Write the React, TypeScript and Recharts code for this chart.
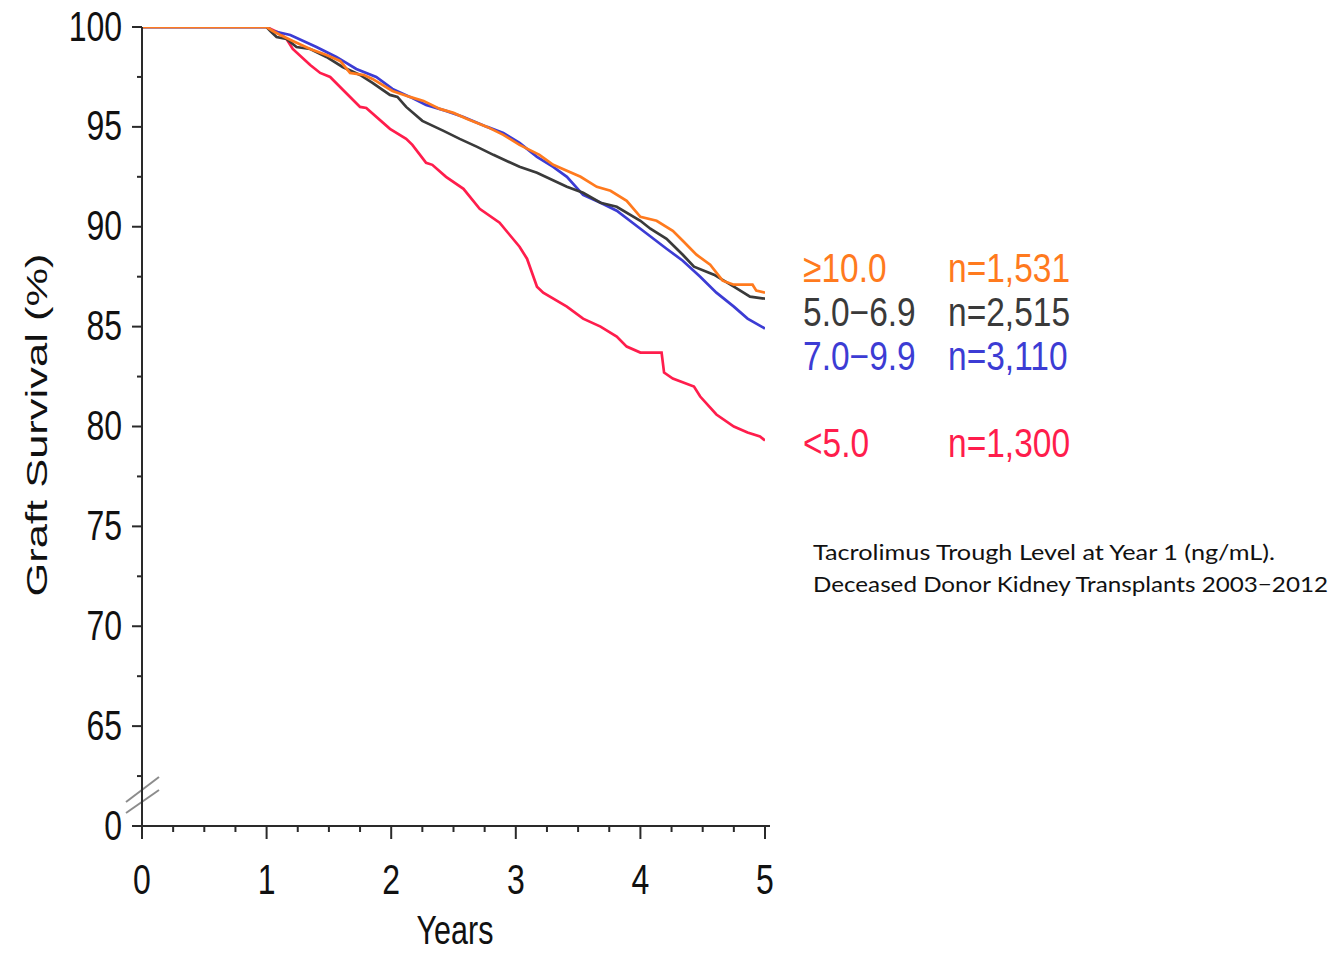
import { CartesianGrid, Customized, Line, LineChart, XAxis, YAxis } from "recharts";

// Kaplan-Meier style graft survival: [years, survival %]
const aboveTen: [number, number][] = [
    [0, 100], [1, 100], [1.05, 99.8], [1.11, 99.6], [1.21, 99.3], [1.35, 98.9], [1.48, 98.6],
    [1.59, 98.3], [1.67, 97.7], [1.78, 97.6], [1.85, 97.4], [2.01, 96.8], [2.15, 96.5],
    [2.26, 96.3], [2.39, 95.9], [2.5, 95.7], [2.61, 95.4], [2.77, 95.0], [2.9, 94.6],
    [3.03, 94.1], [3.19, 93.6], [3.3, 93.1], [3.52, 92.5], [3.65, 92.0], [3.76, 91.8],
    [3.89, 91.3], [4.0, 90.5], [4.13, 90.3], [4.26, 89.8], [4.34, 89.3], [4.45, 88.6],
    [4.56, 88.1], [4.66, 87.3], [4.75, 87.1], [4.9, 87.1], [4.93, 86.8], [5, 86.7],
];

const fiveToSeven: [number, number][] = [
    [0, 100], [1, 100], [1.03, 99.8], [1.08, 99.5], [1.16, 99.4], [1.24, 99.0], [1.35, 98.9],
    [1.48, 98.5], [1.61, 98.0], [1.75, 97.6], [1.85, 97.2], [1.99, 96.6], [2.05, 96.5],
    [2.12, 96.0], [2.25, 95.3], [2.42, 94.8], [2.55, 94.4], [2.69, 94.0], [2.82, 93.6],
    [3.03, 93.0], [3.17, 92.7], [3.41, 92.0], [3.54, 91.7], [3.68, 91.2], [3.81, 91.0],
    [4.0, 90.3], [4.08, 89.9], [4.21, 89.4], [4.34, 88.6], [4.43, 88.0], [4.59, 87.6],
    [4.75, 87.0], [4.88, 86.5], [5, 86.4],
];

const sevenToTen: [number, number][] = [
    [0, 100], [1, 100], [1.05, 99.8], [1.19, 99.6], [1.4, 99.0], [1.56, 98.5], [1.72, 97.9],
    [1.88, 97.5], [2.01, 96.9], [2.15, 96.5], [2.28, 96.1], [2.44, 95.8], [2.58, 95.5],
    [2.77, 95.0], [2.9, 94.7], [3.03, 94.2], [3.17, 93.5], [3.3, 93.0], [3.41, 92.5],
    [3.54, 91.6], [3.68, 91.2], [3.81, 90.8], [4.0, 89.9], [4.21, 88.9], [4.34, 88.3],
    [4.48, 87.5], [4.61, 86.7], [4.75, 86.0], [4.86, 85.4], [5, 84.9],
];

const belowFive: [number, number][] = [
    [0, 100], [1, 100], [1.1, 99.7], [1.16, 99.4], [1.21, 98.9], [1.35, 98.1], [1.43, 97.7],
    [1.51, 97.5], [1.59, 97.0], [1.75, 96.0], [1.8, 95.95], [1.99, 94.9], [2.12, 94.4],
    [2.17, 94.1], [2.28, 93.2], [2.33, 93.1], [2.44, 92.5], [2.58, 91.9], [2.71, 90.9],
    [2.87, 90.2], [2.95, 89.6], [3.03, 89.0], [3.09, 88.4], [3.17, 87.0], [3.22, 86.7],
    [3.41, 86.0], [3.54, 85.4], [3.68, 85.0], [3.81, 84.5], [3.89, 84.0], [4.0, 83.7],
    [4.17, 83.7], [4.19, 82.7], [4.26, 82.4], [4.43, 82.0], [4.48, 81.5], [4.61, 80.6],
    [4.75, 80.0], [4.86, 79.7], [4.96, 79.5], [5, 79.3],
];

const groupLabels = ["≥10.0", "5.0−6.9", "7.0−9.9", "<5.0"];
const groupCounts = ["n=1,531", "n=2,515", "n=3,110", "n=1,300"];
const groupColors = ["#ff7a1e", "#3a3a3a", "#3c3cd4", "#ff1d4c"];

const xTicks = [0, 0.25, 0.5, 0.75, 1, 1.25, 1.5, 1.75, 2, 2.25, 2.5, 2.75, 3, 3.25, 3.5, 3.75, 4, 4.25, 4.5, 4.75, 5];
// 60 stands in for the broken-axis "0"
const yTicks = [60, 62.5, 65, 67.5, 70, 72.5, 75, 77.5, 80, 82.5, 85, 87.5, 90, 92.5, 95, 97.5, 100];

const FONT = "'Liberation Sans', Arial, sans-serif";
const AXIS = "#2a2a2a";

const toRows = (pts: [number, number][]) => pts.map(([year, survival]) => ({ year, survival }));

function YTick({ x, y, payload }: any) {
    const v = payload.value as number;
    const major = v % 5 === 0;
    return (
        <g>
            <line x1={x - (major ? 10 : 5)} x2={x} y1={y} y2={y} stroke={AXIS} strokeWidth={2} />
            {major && (
                <text
                    transform={`translate(${x - 20},${y + 13.5}) scale(1,1.35)`}
                    textAnchor="end"
                    fontFamily={FONT}
                    fontSize={32}
                    fill="#111"
                >
                    {v === 60 ? "0" : v}
                </text>
            )}
        </g>
    );
}

function XTick({ x, y, payload }: any) {
    const v = payload.value as number;
    const major = Number.isInteger(v);
    return (
        <g>
            <line x1={x} x2={x} y1={y} y2={y + (major ? 13 : 6)} stroke={AXIS} strokeWidth={2} />
            {major && (
                <text
                    transform={`translate(${x},${y + 68}) scale(1,1.35)`}
                    textAnchor="middle"
                    fontFamily={FONT}
                    fontSize={32}
                    fill="#111"
                >
                    {v}
                </text>
            )}
        </g>
    );
}

function Decorations() {
    const legendRows = [282, 326, 370, 457];
    return (
        <g>
            {/* axis break and the short run of x-axis past 5 */}
            <polygon points="138,793 146,787 146,799 138,805" fill="#fff" />
            <line x1={126} y1={802} x2={159} y2={777} stroke="#8c8c8c" strokeWidth={2} />
            <line x1={126} y1={813} x2={159} y2={790} stroke="#8c8c8c" strokeWidth={2} />
            <line x1={764} y1={826} x2={770} y2={826} stroke={AXIS} strokeWidth={2} />

            <text
                transform="translate(47,425) scale(1,1.45) rotate(-90)"
                textAnchor="middle"
                fontFamily={FONT}
                fontSize={30}
                fill="#111"
            >
                Graft Survival (%)
            </text>
            <text
                transform="translate(455,944) scale(1,1.35)"
                textAnchor="middle"
                fontFamily={FONT}
                fontSize={30.5}
                fill="#111"
            >
                Years
            </text>

            {groupLabels.map((label, i) => (
                <g key={label} fill={groupColors[i]} fontFamily={FONT} fontSize={33.5}>
                    <text transform={`translate(803,${legendRows[i]}) scale(1,1.2)`}>{label}</text>
                    <text transform={`translate(948,${legendRows[i]}) scale(1,1.2)`}>{groupCounts[i]}</text>
                </g>
            ))}

            <g fontFamily="Lato, Calibri, sans-serif" fontSize={21} fill="#111">
                <text x={813} y={560} textLength={462} lengthAdjust="spacingAndGlyphs">
                    Tacrolimus Trough Level at Year 1 (ng/mL).
                </text>
                <text x={813} y={592} textLength={515} lengthAdjust="spacingAndGlyphs">
                    Deceased Donor Kidney Transplants 2003−2012
                </text>
            </g>
        </g>
    );
}

export default function App() {
    const series = [
        { rows: toRows(belowFive), color: groupColors[3], name: "<5.0" },
        { rows: toRows(sevenToTen), color: groupColors[2], name: "7.0-9.9" },
        { rows: toRows(fiveToSeven), color: groupColors[1], name: "5.0-6.9" },
        { rows: toRows(aboveTen), color: groupColors[0], name: ">=10.0" },
    ];

    return (
        <div style={{ position: "absolute", left: 0, top: 0, width: 1335, height: 953, background: "#fff" }}>
            <LineChart width={1335} height={953} margin={{ top: 27, right: 570, bottom: 67, left: 82 }}>
                <CartesianGrid stroke="none" />
                <XAxis
                    dataKey="year"
                    type="number"
                    domain={[0, 5]}
                    ticks={xTicks}
                    interval={0}
                    height={60}
                    tickLine={false}
                    tickSize={0}
                    tickMargin={0}
                    axisLine={{ stroke: AXIS, strokeWidth: 2 }}
                    tick={<XTick />}
                    allowDataOverflow
                />
                <YAxis
                    type="number"
                    domain={[60, 100]}
                    ticks={yTicks}
                    interval={0}
                    width={60}
                    tickLine={false}
                    tickSize={0}
                    tickMargin={0}
                    axisLine={{ stroke: AXIS, strokeWidth: 2 }}
                    tick={<YTick />}
                    allowDataOverflow
                />
                {series.map((s) => (
                    <Line
                        key={s.name}
                        data={s.rows}
                        dataKey="survival"
                        name={s.name}
                        type="linear"
                        stroke={s.color}
                        strokeWidth={2.7}
                        dot={false}
                        activeDot={false}
                        isAnimationActive={false}
                    />
                ))}
                <Customized component={<Decorations />} />
            </LineChart>
        </div>
    );
}
